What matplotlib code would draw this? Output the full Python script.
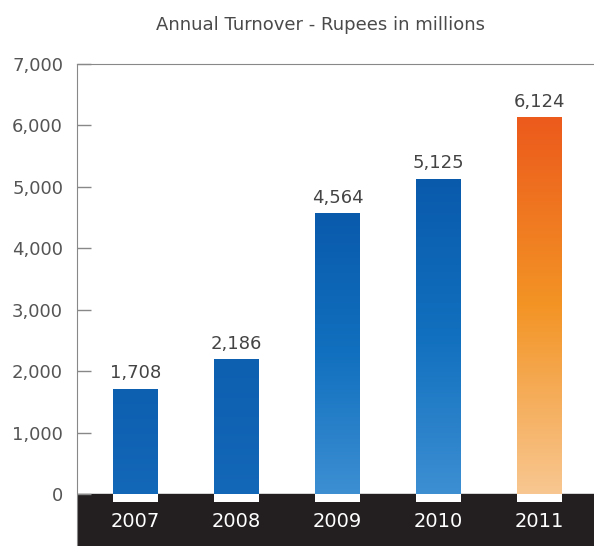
import numpy as np
import matplotlib.pyplot as plt
from matplotlib.colors import LinearSegmentedColormap

years = ['2007', '2008', '2009', '2010', '2011']
turnover = [1708, 2186, 4564, 5125, 6124]
value_labels = ['1,708', '2,186', '4,564', '5,125', '6,124']
yticks = [0, 1000, 2000, 3000, 4000, 5000, 6000, 7000]

plt.rcParams['font.family'] = ['DejaVu Sans']

fig = plt.figure(figsize=(5.94, 5.46), dpi=100)
W, H = 594, 546
ax = fig.add_axes([77 / W, 0, 517 / W, (546 - 64) / H])

ymin = -52 * 7000 / 430
ax.set_ylim(ymin, 7000)
ax.set_xlim(-58.5 / 101, 4 + 54.5 / 101)

# black band under the zero line
ax.axhspan(ymin, 0, color='#231f20', zorder=1)

blue = LinearSegmentedColormap.from_list('b', ['#0a5aac', '#1170bf', '#3d8fd2'])
orange = LinearSegmentedColormap.from_list('o', ['#ec5a1c', '#f39425', '#f8c791'])

x = np.arange(len(years))
bw = 0.445
bars = ax.bar(x, turnover, width=bw, color='none', zorder=2)
grad = np.linspace(0, 1, 256).reshape(-1, 1)
for i, (b, v) in enumerate(zip(bars, turnover)):
    cmap = orange if i == len(years) - 1 else blue
    if i < 2:
        cmap = LinearSegmentedColormap.from_list('b0', ['#0d5fb0', '#1468b8'])
    ax.imshow(grad, cmap=cmap, aspect='auto', zorder=2,
              extent=[b.get_x(), b.get_x() + bw, 0, v])
    # white strip under each bar
    ax.bar(x[i], -130, width=bw, color='white', zorder=3)
    ax.text(x[i], v + 110, value_labels[i], ha='center', va='bottom',
            fontsize=13, color='#444444')
    ax.text(x[i], -440, years[i], ha='center', va='center',
            fontsize=14, color='white')

ax.set_yticks(yticks)
ax.set_yticklabels([f'{t:,}' for t in yticks], fontsize=13, color='#555555')
ax.tick_params(axis='y', direction='in', length=10, width=1, color='#888888', pad=10)
ax.set_xticks([])
for s in ['right', 'bottom']:
    ax.spines[s].set_visible(False)
ax.spines['left'].set_color('#888888')
ax.spines['left'].set_bounds(ymin, 7000)
ax.spines['top'].set_color('#888888')

fig.text(321 / W, 1 - 25 / H, 'Annual Turnover - Rupees in millions',
         ha='center', va='center', fontsize=13, color='#4a4a4a')

fig.savefig('out.png', dpi=100)
